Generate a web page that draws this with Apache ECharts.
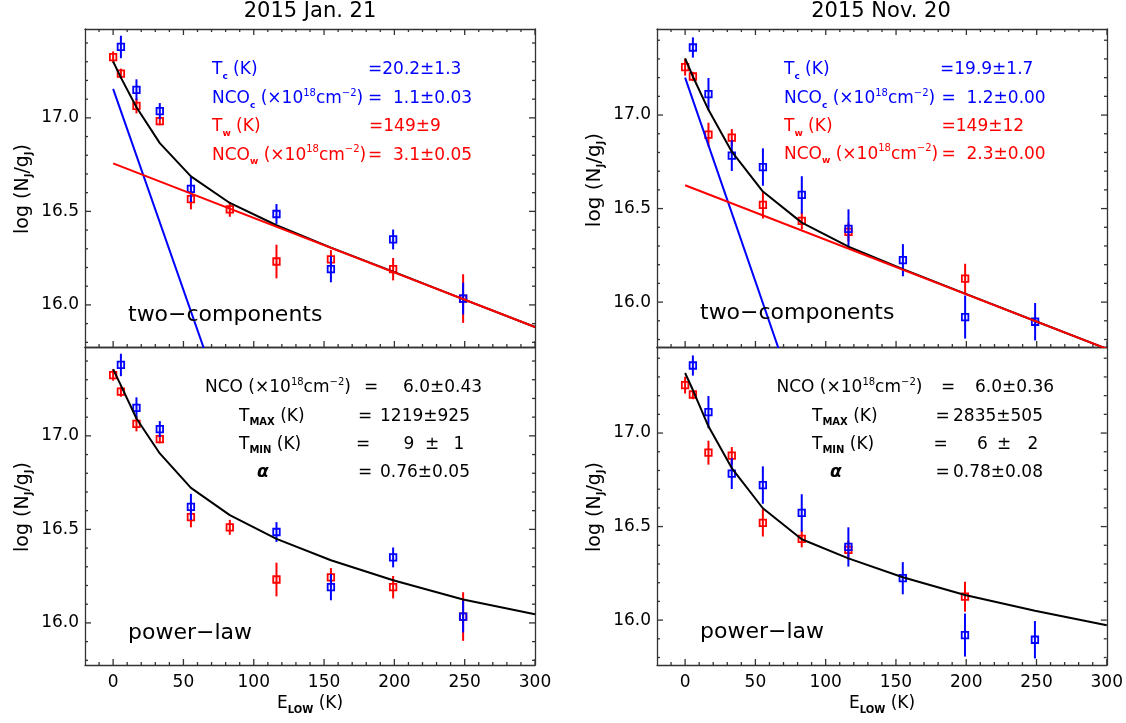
<!DOCTYPE html>
<html><head><meta charset="utf-8">
<script src="https://cdn.jsdelivr.net/npm/echarts@6/dist/echarts.min.js"></script>
<style>html,body{margin:0;padding:0;background:#fff}#c{width:1126px;height:723px}</style>
</head><body><div id="c"></div>
<script>
// ---------------- data ----------------
// level energies E_low (K) used by the model curves
const E_model = [0, 5.53, 16.6, 33.19, 55.32, 82.97, 116.16, 154.87, 199.11, 248.88, 300];

// 2015 Jan. 21
const jan_red_E    = [0, 5.53, 16.6, 33.19, 55.32, 82.97, 116.16, 154.87, 199.11, 248.88];
const jan_red_y    = [17.325, 17.236, 17.064, 16.982, 16.566, 16.511, 16.232, 16.243, 16.191, 16.034];
const jan_red_err  = [0.03, 0.027, 0.04, 0.022, 0.055, 0.04, 0.09, 0.05, 0.06, 0.13];
const jan_blue_E   = [5.53, 16.6, 33.19, 55.32, 116.16, 154.87, 199.11, 248.88];
const jan_blue_y   = [17.379, 17.15, 17.036, 16.62, 16.486, 16.191, 16.35, 16.034];
const jan_blue_err = [0.06, 0.056, 0.043, 0.07, 0.053, 0.07, 0.053, 0.085];
const jan_cold_line = [[0, 17.155], [80, 15.435]];
const jan_warm_line = [[0, 16.757], [300, 15.882]];
const jan_two_sum   = [17.301, 17.215, 17.057, 16.865, 16.687, 16.545, 16.426, 16.306, 16.178, 16.031, 15.882];
const jan_power     = [17.357, 17.27, 17.093, 16.906, 16.722, 16.576, 16.449, 16.335, 16.228, 16.125, 16.046];

// 2015 Nov. 20
const nov_red_E    = [0, 5.53, 16.6, 33.19, 55.32, 82.97, 116.16, 199.11];
const nov_red_y    = [17.256, 17.206, 16.895, 16.879, 16.52, 16.434, 16.375, 16.125];
const nov_red_err  = [0.045, 0.025, 0.064, 0.046, 0.073, 0.045, 0.05, 0.08];
const nov_blue_E   = [5.53, 16.6, 33.19, 55.32, 82.97, 116.16, 154.87, 199.11, 248.88];
const nov_blue_y   = [17.361, 17.112, 16.783, 16.722, 16.573, 16.391, 16.224, 15.92, 15.895];
const nov_blue_err = [0.054, 0.086, 0.082, 0.1, 0.1, 0.105, 0.086, 0.115, 0.1];
const nov_cold_line = [[0, 17.2], [80, 15.456]];
const nov_warm_line = [[0, 16.625], [300, 15.75]];
const nov_two_sum   = [17.303, 17.206, 17.028, 16.804, 16.591, 16.425, 16.296, 16.176, 16.045, 15.899, 15.75];
const nov_power     = [17.321, 17.23, 17.036, 16.813, 16.598, 16.432, 16.33, 16.229, 16.134, 16.05, 15.973];

// axis ranges / ticks
const xRange = [-20, 300];
const jan_yRange = [15.775, 17.475];
const nov_yRange = [15.76, 17.46];
const xMajor = [0, 50, 100, 150, 200, 250, 300];
const yMajor = [16.0, 16.5, 17.0];
const xMinor = [-10, 10, 20, 30, 40, 60, 70, 80, 90, 110, 120, 130, 140, 160, 170, 180, 190, 210, 220, 230, 240, 260, 270, 280, 290];
const yMinor = [15.8, 15.9, 16.1, 16.2, 16.3, 16.4, 16.6, 16.7, 16.8, 16.9, 17.1, 17.2, 17.3, 17.4];

// ---------------- layout / style ----------------
const FONT = 'DejaVu Sans';
const FRAME = '#333333';
const BLUE = '#0000ff', RED = '#ff0000', BLACK = '#000000';

const grids = [], xAxes = [], yAxes = [], series = [];
const tl = {color: FRAME, width: 1.3};

function addPanel(left, top, yr, showXLabels, topTicks) {
  const g = grids.length;
  grids.push({left: left, top: top, width: 450, height: 318, containLabel: false});
  const xi = xAxes.length, yi = yAxes.length;
  const xb = {gridIndex: g, type: 'value', min: xRange[0], max: xRange[1], offset: 0, splitLine: {show: false}, axisPointer: {show: false}};
  xAxes.push(Object.assign({}, xb, {position: 'bottom',
    axisLine: {show: true, onZero: false, lineStyle: tl},
    axisTick: {show: false},
    axisLabel: {show: showXLabels, customValues: xMajor, margin: 9, fontFamily: FONT, fontSize: 17, color: '#000'}}));
  xAxes.push(Object.assign({}, xb, {position: 'top', axisLine: {show: true, onZero: false, lineStyle: tl},
    axisTick: {show: false}, axisLabel: {show: false}}));
  const yb = {gridIndex: g, type: 'value', min: yr[0], max: yr[1], offset: 0, splitLine: {show: false}, axisPointer: {show: false}};
  yAxes.push(Object.assign({}, yb, {position: 'left',
    axisLine: {show: true, onZero: false, lineStyle: tl},
    axisTick: {show: false},
    axisLabel: {show: true, customValues: yMajor, formatter: v => Number(v).toFixed(1), margin: 6, fontFamily: FONT, fontSize: 17, color: '#000'}}));
  yAxes.push(Object.assign({}, yb, {position: 'right', axisLine: {show: true, onZero: false, lineStyle: tl},
    axisTick: {show: false}, axisLabel: {show: false}}));
  const ax = {xi: xi, yi: yi};
  // inward tick marks on all four sides, placed through the axes' scales
  series.push(tickSeries(ax, yr, topTicks));
  return ax;
}

function tickSeries(ax, yr, topTicks) {
  const items = [];
  xMajor.forEach(v => { items.push([v, 'xb', 6]); if (topTicks) items.push([v, 'xt', 6]); });
  xMinor.forEach(v => { items.push([v, 'xb', 3]); if (topTicks) items.push([v, 'xt', 3]); });
  yMajor.forEach(v => { items.push([v, 'yl', 6]); items.push([v, 'yr', 6]); });
  yMinor.forEach(v => { items.push([v, 'yl', 3]); items.push([v, 'yr', 3]); });
  return {
    type: 'custom', xAxisIndex: ax.xi, yAxisIndex: ax.yi, silent: true, animation: false, z: 1,
    data: items.map((it, i) => [i]),
    renderItem: function (params, api) {
      const it = items[params.dataIndex];
      const v = it[0], side = it[1], len = it[2];
      let a, b;
      if (side === 'xb') { a = api.coord([v, yr[0]]); b = [a[0], a[1] - len]; }
      else if (side === 'xt') { a = api.coord([v, yr[1]]); b = [a[0], a[1] + len]; }
      else if (side === 'yl') { a = api.coord([xRange[0], v]); b = [a[0] + len, a[1]]; }
      else { a = api.coord([xRange[1], v]); b = [a[0] - len, a[1]]; }
      return {type: 'line', shape: {x1: a[0], y1: a[1], x2: b[0], y2: b[1]}, style: {stroke: FRAME, lineWidth: 1.3}};
    }
  };
}

function errSeries(ax, E, Y, ERR, color) {
  return {
    type: 'custom', xAxisIndex: ax.xi, yAxisIndex: ax.yi, clip: true, silent: true, animation: false, z: 2,
    data: E.map((e, i) => [e, Y[i], ERR[i]]),
    encode: {x: 0, y: 1},
    renderItem: function (params, api) {
      const x = api.value(0), y = api.value(1), e = api.value(2);
      const p0 = api.coord([x, y - e]), p1 = api.coord([x, y + e]), c = api.coord([x, y]);
      const s = 6.5;
      return {type: 'group', children: [
        {type: 'line', shape: {x1: p0[0], y1: p0[1], x2: p1[0], y2: p1[1]}, style: {stroke: color, lineWidth: 2}},
        {type: 'rect', shape: {x: c[0] - s / 2, y: c[1] - s / 2, width: s, height: s}, style: {fill: 'none', stroke: color, lineWidth: 1.8}}
      ]};
    }
  };
}
function lineSeries(ax, data, color) {
  return {type: 'line', xAxisIndex: ax.xi, yAxisIndex: ax.yi, data: data, showSymbol: false, symbol: 'none',
    lineStyle: {color: color, width: 2}, itemStyle: {color: color}, clip: true, silent: true, animation: false, z: 3};
}
const pairs = (xs, ys) => xs.map((x, i) => [x, ys[i]]);

const A1 = addPanel(85, 29, jan_yRange, false, true);
const A2 = addPanel(85, 347, jan_yRange, true, false);
const B1 = addPanel(657, 29, nov_yRange, false, true);
const B2 = addPanel(657, 347, nov_yRange, true, false);

// Jan, two components
series.push(errSeries(A1, jan_red_E, jan_red_y, jan_red_err, RED));
series.push(errSeries(A1, jan_blue_E, jan_blue_y, jan_blue_err, BLUE));
series.push(lineSeries(A1, jan_cold_line, BLUE));
series.push(lineSeries(A1, pairs(E_model, jan_two_sum), BLACK));
series.push(lineSeries(A1, jan_warm_line, RED));
// Jan, power law
series.push(errSeries(A2, jan_red_E, jan_red_y, jan_red_err, RED));
series.push(errSeries(A2, jan_blue_E, jan_blue_y, jan_blue_err, BLUE));
series.push(lineSeries(A2, pairs(E_model, jan_power), BLACK));
// Nov, two components
series.push(errSeries(B1, nov_red_E, nov_red_y, nov_red_err, RED));
series.push(errSeries(B1, nov_blue_E, nov_blue_y, nov_blue_err, BLUE));
series.push(lineSeries(B1, nov_cold_line, BLUE));
series.push(lineSeries(B1, pairs(E_model, nov_two_sum), BLACK));
series.push(lineSeries(B1, nov_warm_line, RED));
// Nov, power law
series.push(errSeries(B2, nov_red_E, nov_red_y, nov_red_err, RED));
series.push(errSeries(B2, nov_blue_E, nov_blue_y, nov_blue_err, BLUE));
series.push(lineSeries(B2, pairs(E_model, nov_power), BLACK));

// ---------------- texts ----------------
function R(color, size) {
  size = size || 17;
  return {
    m: {fontFamily: FONT, fontSize: size, fill: color, lineHeight: 22},
    s: {fontFamily: FONT, fontSize: 9, fontWeight: 'bold', fill: color, lineHeight: 8, verticalAlign: 'bottom'},
    S: {fontFamily: FONT, fontSize: 10, fontWeight: 'bold', fill: color, lineHeight: 12, verticalAlign: 'bottom'},
    p: {fontFamily: FONT, fontSize: 10, fill: color, lineHeight: 10, verticalAlign: 'top'},
    a: {fontFamily: FONT, fontSize: size, fontWeight: 'bold', fontStyle: 'italic', fill: color, lineHeight: 22}
  };
}
function T(x, y, text, color, opt) {
  opt = opt || {};
  const st = {text: text, rich: R(color, opt.size), fill: color, fontFamily: FONT, fontSize: opt.size || 17,
    align: opt.align || 'left', verticalAlign: 'middle', textAlign: opt.align || 'left', textVerticalAlign: 'middle'};
  const el = {type: 'text', x: x, y: y, silent: true, style: st, z: 10};
  if (opt.rot) el.rotation = opt.rot;
  return el;
}
const NCOc = '{m|NCO}{s|c}{m| (×10}{p|18}{m|cm}{p|−2}{m|)}';
const NCOw = '{m|NCO}{s|w}{m| (×10}{p|18}{m|cm}{p|−2}{m|)}';
const NCO  = '{m|NCO (×10}{p|18}{m|cm}{p|−2}{m|)}';
const Tc = '{m|T}{s|c}{m| (K)}', Tw = '{m|T}{s|w}{m| (K)}';
const Tmax = '{m|T}{S|MAX}{m| (K)}', Tmin = '{m|T}{S|MIN}{m| (K)}';
const YT = '{m|log (N}{S|J}{m|/g}{S|J}{m|)}';
const XT = '{m|E}{S|LOW}{m| (K)}';

const graphic = [
  T(310, 12, '2015 Jan. 21', BLACK, {align: 'center', size: 21}),
  T(881, 12, '2015 Nov. 20', BLACK, {align: 'center', size: 21}),
  T(23, 189, YT, BLACK, {align: 'center', rot: Math.PI / 2, size: 19}),
  T(23, 507, YT, BLACK, {align: 'center', rot: Math.PI / 2, size: 19}),
  T(595, 180, YT, BLACK, {align: 'center', rot: Math.PI / 2, size: 20}),
  T(595, 507, YT, BLACK, {align: 'center', rot: Math.PI / 2, size: 19}),
  T(310, 704, XT, BLACK, {align: 'center'}),
  T(882, 704, XT, BLACK, {align: 'center'}),
  T(128, 315, 'two−components', BLACK, {size: 22}),
  T(700, 313.5, 'two−components', BLACK, {size: 22}),
  T(128, 633.5, 'power−law', BLACK, {size: 22}),
  T(700, 632, 'power−law', BLACK, {size: 22}),
  // Jan, two components
  T(212, 70, Tc, BLUE), T(368, 70, '=20.2±1.3', BLUE),
  T(212, 99, NCOc, BLUE), T(368, 99, '=  1.1±0.03', BLUE),
  T(212, 127, Tw, RED), T(369, 127, '=149±9', RED),
  T(212, 155.5, NCOw, RED), T(368, 155.5, '=  3.1±0.05', RED),
  // Nov, two components
  T(784, 70, Tc, BLUE), T(940, 70, '=19.9±1.7', BLUE),
  T(784, 99, NCOc, BLUE), T(941.5, 99, '=  1.2±0.00', BLUE),
  T(784, 127, Tw, RED), T(941.5, 127, '=149±12', RED),
  T(784, 154.5, NCOw, RED), T(941.5, 154.5, '=  2.3±0.00', RED),
  // Jan, power law
  T(205, 388, NCO, BLACK), T(364, 388, '=', BLACK), T(403, 388, '6.0±0.43', BLACK),
  T(239, 416.5, Tmax, BLACK), T(358, 416.5, '=', BLACK), T(380, 416.5, '1219±925', BLACK),
  T(239, 444.5, Tmin, BLACK), T(356, 444.5, '=', BLACK), T(403.5, 444.5, '9', BLACK), T(425, 444.5, '±', BLACK), T(453.5, 444.5, '1', BLACK),
  T(257, 472.5, '{a|α}', BLACK), T(358, 472.5, '=', BLACK), T(380, 472.5, '0.76±0.05', BLACK),
  // Nov, power law
  T(776.5, 388, NCO, BLACK), T(941, 388, '=', BLACK), T(975, 388, '6.0±0.36', BLACK),
  T(812, 416.5, Tmax, BLACK), T(935.5, 416.5, '=', BLACK), T(953, 416.5, '2835±505', BLACK),
  T(812, 444.5, Tmin, BLACK), T(933.5, 444.5, '=', BLACK), T(977, 444.5, '6', BLACK), T(997, 444.5, '±', BLACK), T(1027.5, 444.5, '2', BLACK),
  T(830, 472.5, '{a|α}', BLACK), T(935.5, 472.5, '=', BLACK), T(953, 472.5, '0.78±0.08', BLACK)
];

const chart = echarts.init(document.getElementById('c'), null, {renderer: 'canvas'});
chart.setOption({
  backgroundColor: '#ffffff',
  animation: false,
  grid: grids, xAxis: xAxes, yAxis: yAxes, series: series,
  graphic: {elements: graphic}
});
</script>
</body></html>
